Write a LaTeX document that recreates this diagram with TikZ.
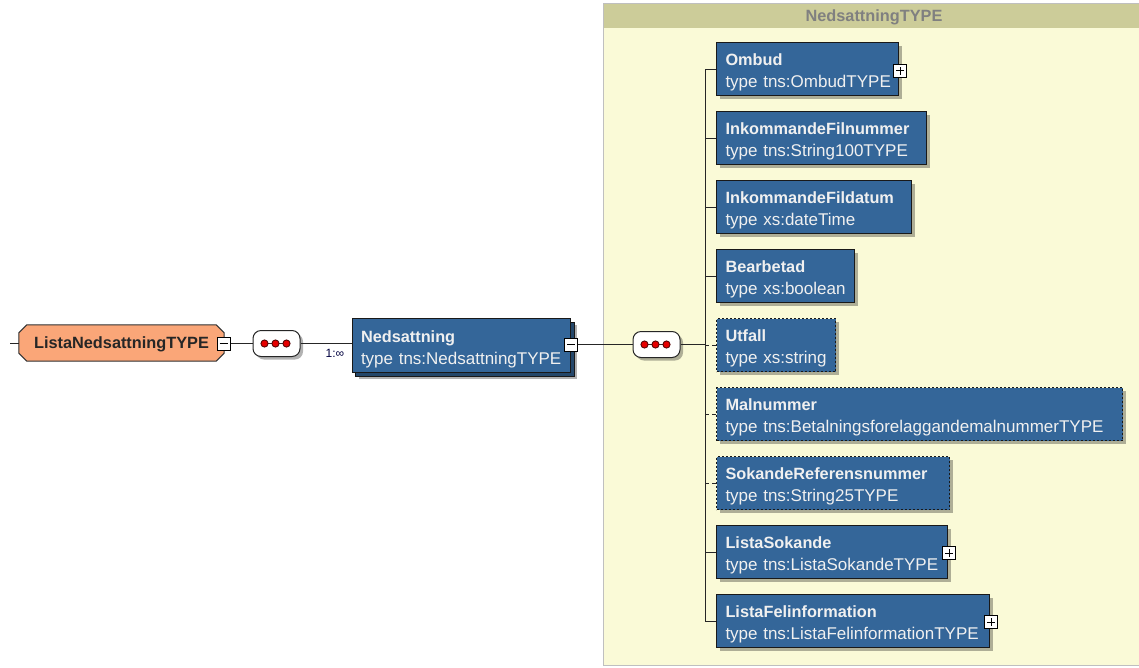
\documentclass[tikz,border=0pt]{standalone}
\usepackage{fontspec}
\setmainfont{Liberation Sans}
\usetikzlibrary{shadows,calc}
\definecolor{xsblue}{RGB}{52,102,153}
\definecolor{xstext}{RGB}{240,240,240}
\definecolor{xsorange}{RGB}{250,166,120}
\definecolor{panelfill}{RGB}{250,250,215}
\definecolor{panelhdr}{RGB}{204,204,153}
\definecolor{hdrtext}{RGB}{128,128,128}
\definecolor{dotred}{RGB}{230,0,0}
\newcommand\ttl[1]{{\fontsize{16.3}{22}\selectfont\bfseries #1}}
\newcommand\elt[2]{\mbox{\rule{0pt}{19pt}\ttl{#1}}\\\mbox{\rule[-4pt]{0pt}{4pt}#2}}
\begin{document}
\begin{tikzpicture}[x=1pt,y=-1pt,
  shd/.style={drop shadow={shadow xshift=3pt,shadow yshift=-3pt,fill=black,opacity=0.3}},
  xsel/.style={rectangle,draw=black!90,line width=1pt,fill=xsblue,text=xstext,
    minimum height=53pt,inner xsep=9pt,inner ysep=0pt,align=left,anchor=north west,
    font=\fontsize{17}{22}\selectfont,shd},
  optel/.style={xsel,dashed,dash pattern=on 2pt off 2pt},
  tog/.style={rectangle,draw=black,line width=1pt,fill=white,minimum size=13pt,inner sep=0pt},
  minusbox/.style={tog,path picture={\draw[line width=1pt] ($(path picture bounding box.center)+(-4pt,0)$) -- ++(8pt,0);}},
  plusbox/.style={tog,path picture={\draw[line width=1pt] ($(path picture bounding box.center)+(-4pt,0)$) -- ++(8pt,0);
     \draw[line width=1pt] ($(path picture bounding box.center)+(0,-4pt)$) -- ++(0,8pt);}},
  seqbox/.style={rectangle,rounded corners=8pt,draw=black!85,line width=1pt,fill=white,
    minimum width=47pt,minimum height=26pt,shd},
  conn/.style={line width=1pt,draw=black!85},
  optconn/.style={conn,dash pattern=on 4pt off 3pt}
]
\useasboundingbox (0,0) rectangle (1139,667);
\fill[white] (0,0) rectangle (1139,667);

% panel
\fill[panelfill] (603.5,3) rectangle (1145,665);
\fill[panelhdr] (603.5,3) rectangle (1145,27.5);
\draw[line width=1pt,draw=black!25] (1145,3) -- (603.5,3) -- (603.5,665) -- (1145,665);
\node[font=\fontsize{16.3}{20}\selectfont\bfseries,text=hdrtext] (hdr) at (874,17) {NedsattningTYPE};

% root element
\node[minimum width=205pt,minimum height=36pt,inner sep=0pt] (lista) at (121.5,343) {};
\fill[black!30,opacity=0.6,shift={(3pt,-3pt)}] ($(lista.north west)+(8,0)$) -- ($(lista.north east)+(-8,0)$) -- ($(lista.north east)+(0,8)$) -- ($(lista.south east)+(0,-8)$) -- ($(lista.south east)+(-8,0)$) -- ($(lista.south west)+(8,0)$) -- ($(lista.south west)+(0,-8)$) -- ($(lista.north west)+(0,8)$) -- cycle;
\filldraw[fill=xsorange,draw=black!80,line width=1pt] ($(lista.north west)+(8,0)$) -- ($(lista.north east)+(-8,0)$) -- ($(lista.north east)+(0,8)$) -- ($(lista.south east)+(0,-8)$) -- ($(lista.south east)+(-8,0)$) -- ($(lista.south west)+(8,0)$) -- ($(lista.south west)+(0,-8)$) -- ($(lista.north west)+(0,8)$) -- cycle;
\node[font=\fontsize{16.3}{20}\selectfont\bfseries,text=black!85] (listatxt) at ($(lista.center)+(0,1)$) {ListaNedsattningTYPE};
\node[minusbox] (listamin) at (223.5,343.5) {};
\coordinate (leftend) at (10,343.5);
\draw[conn] (leftend) -- (leftend -| lista.west);

% first sequence
\node[seqbox] (seq1) at (276.5,343.5) {};
\draw[conn] (listamin.east) -- (seq1.west);
\draw[line width=1pt,black!80] ($(seq1.center)+(-12,0)$) -- ($(seq1.center)+(10,0)$);
\foreach \dx in {-12,-1,10}{\filldraw[fill=dotred,draw=black!70!red,line width=0.8pt] ($(seq1.center)+(\dx,0)$) circle (3.6pt);}

% Nedsattning (repeated element)
\fill[black,opacity=0.3] (358.5,325) rectangle (577,379);
\filldraw[fill=xsblue,draw=black!90,line width=1pt] (355.5,322) rectangle (574,376);
\node[xsel,text width=200.5pt,minimum height=54pt] (ned) at (351.5,318) {\elt{Nedsattning}{type tns:NedsattningTYPE}};
\node[minusbox] (nedmin) at (571,344.5) {};
\draw[conn] (seq1.east) -- (seq1.east -| ned.west);
\node[font=\fontsize{12}{14}\selectfont,text=black!75!blue,anchor=center] (mult) at (335,353.5) {1:∞};

% second sequence
\node[seqbox] (seq2) at (656.5,344.5) {};
\draw[conn] (nedmin.east) -- (seq2.west);
\draw[line width=1pt,black!80] ($(seq2.center)+(-12,0)$) -- ($(seq2.center)+(10,0)$);
\foreach \dx in {-12,-1,10}{\filldraw[fill=dotred,draw=black!70!red,line width=0.8pt] ($(seq2.center)+(\dx,0)$) circle (3.6pt);}

% children
\node[xsel,text width=164pt] (ombud) at (716,42) {\elt{Ombud}{type tns:OmbudTYPE}};
\node[xsel,text width=192pt] (filnr) at (716,111) {\elt{InkommandeFilnummer}{type tns:String100TYPE}};
\node[xsel,text width=177pt] (fildat) at (716,180) {\elt{InkommandeFildatum}{type xs:dateTime}};
\node[xsel,text width=120pt] (bearb) at (716,249) {\elt{Bearbetad}{type xs:boolean}};
\node[optel,text width=101pt] (utfall) at (716,318) {\elt{Utfall}{type xs:string}};
\node[optel,text width=388pt] (malnr) at (716,387) {\elt{Malnummer}{type tns:BetalningsforelaggandemalnummerTYPE}};
\node[optel,text width=215pt] (sokref) at (716,456) {\elt{SokandeReferensnummer}{type tns:String25TYPE}};
\node[xsel,text width=213pt] (soklista) at (716,525) {\elt{ListaSokande}{type tns:ListaSokandeTYPE}};
\node[xsel,text width=255pt] (felinfo) at (716,594) {\elt{ListaFelinformation}{type tns:ListaFelinformationTYPE}};

\node[plusbox] (ombudplus) at ($(ombud.east)+(1,1.5)$) {};
\node[plusbox] (sokplus) at ($(soklista.east)+(1,1)$) {};
\node[plusbox] (felplus) at ($(felinfo.east)+(1,1)$) {};

% trunk
\coordinate (trunk) at (705,0);
\draw[conn] (seq2.east) -- (seq2.east -| trunk);
\draw[conn] (trunk |- ombud.west) -- (trunk |- felinfo.west);
\foreach \n in {ombud,filnr,fildat,bearb,soklista,felinfo}{\draw[conn] (trunk |- \n.west) -- (\n.west);}
\foreach \n in {utfall,malnr,sokref}{\draw[optconn] (trunk |- \n.west) -- (\n.west);}
\end{tikzpicture}
\end{document}
